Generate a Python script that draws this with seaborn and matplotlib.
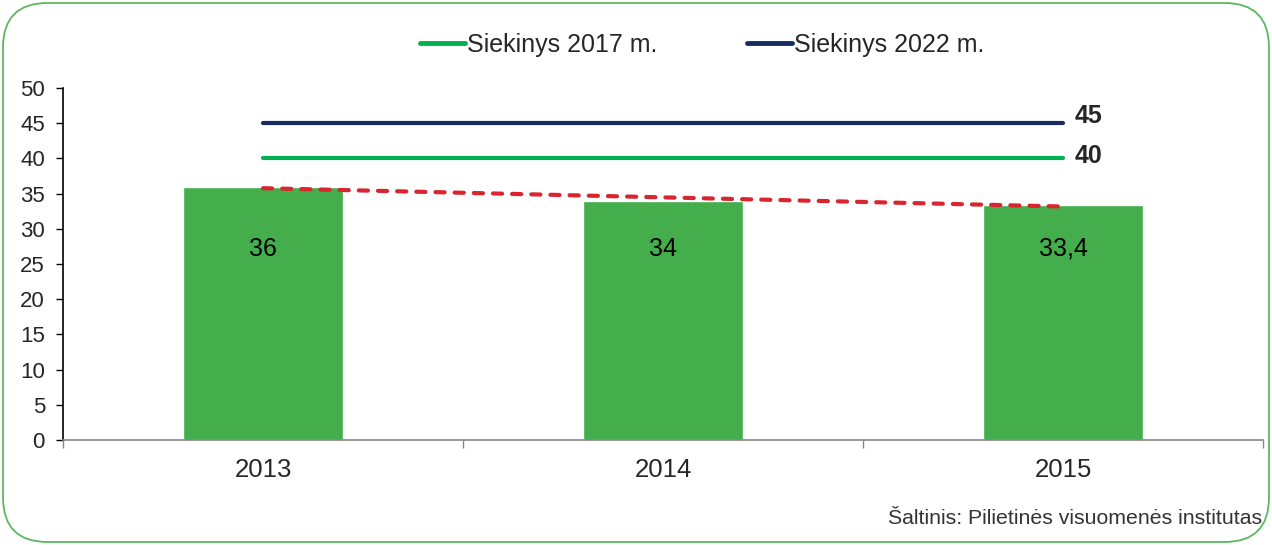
import matplotlib
matplotlib.use("Agg")
import matplotlib.pyplot as plt
import seaborn as sns
import numpy as np
import pandas as pd
from matplotlib.patches import FancyBboxPatch
from matplotlib.lines import Line2D

years = ["2013", "2014", "2015"]
values = [36, 34, 33.4]
value_labels = ["36", "34", "33,4"]
target_2017 = 40
target_2022 = 45
legend_labels = ["Siekinys 2017 m.", "Siekinys 2022 m."]
source_text = "Šaltinis: Pilietinės visuomenės institutas"

sns.set_theme(style="white")
plt.rcParams['font.family'] = ['Liberation Sans', 'DejaVu Sans']

fig = plt.figure(figsize=(12.72, 5.45), dpi=100)
ax = fig.add_axes([63/1272, 1-440/545, 1200/1272, 352/545])

df = pd.DataFrame({"year": years, "value": values})
sns.barplot(data=df, x="year", y="value", color="#43AE4B", width=0.4,
            saturation=1, ax=ax)

xs = np.arange(len(years))
ax.plot([xs[0], xs[-1]], [target_2022]*2, color="#172B63", lw=3, solid_capstyle="round", zorder=3)
ax.plot([xs[0], xs[-1]], [target_2017]*2, color="#00B050", lw=3, solid_capstyle="round", zorder=3)

# linear trend of values
coef = np.polyfit(xs, values, 1)
trend = np.polyval(coef, xs)
ax.plot([xs[0], xs[-1]], [trend[0], trend[-1]], color="#D9262E", lw=3,
        dashes=(2.2, 2.4), dash_capstyle="round", zorder=4)

for x, v, lab in zip(xs, values, value_labels):
    ax.text(x, 27.2, lab, ha="center", va="center", fontsize=18, color="black")

ax.text(xs[-1] + 0.03, target_2022 + 1.0, str(target_2022), ha="left", va="center",
        fontsize=18, fontweight="bold")
ax.text(xs[-1] + 0.03, target_2017 + 0.4, str(target_2017), ha="left", va="center",
        fontsize=18, fontweight="bold")

ax.set_xlim(-0.5, 2.5)
ax.set_ylim(0, 50)
ax.set_yticks(range(0, 51, 5))
ax.set_xlabel("")
ax.set_ylabel("")
ax.tick_params(axis="y", labelsize=16, length=5, width=1, direction="out", left=True, pad=8, color="black")
ax.set_xticks(xs)
ax.set_xticklabels(years, fontsize=18.5)
ax.tick_params(axis="x", length=0, pad=13)
# category boundary ticks
ax.set_xticks([-0.5, 0.5, 1.5, 2.5], minor=True)
ax.tick_params(axis="x", which="minor", length=6, color="#888888", width=1, direction="out", bottom=True)
for s in ["top", "right"]:
    ax.spines[s].set_visible(False)
ax.spines["left"].set_color("black")
ax.spines["left"].set_linewidth(1.2)
ax.spines["bottom"].set_color("#888888")
ax.spines["bottom"].set_linewidth(1.2)

handles = [Line2D([], [], color="#00B050", lw=3.5), Line2D([], [], color="#172B63", lw=3.5)]
fig.legend(handles, legend_labels, loc="center", bbox_to_anchor=(702/1272, 1-45/545),
           ncol=2, frameon=False, fontsize=18, handlelength=1.8, handletextpad=0.08,
           columnspacing=3.6)

fig.text(1262/1272, 1-518/545, source_text, ha="right", va="center", fontsize=15.3, color="#333333")

border = FancyBboxPatch((3/1272, 3/545), 1266/1272, 539/545,
                        boxstyle="round,pad=0,rounding_size=0.035",
                        transform=fig.transFigure, fill=False, edgecolor="#5DB760", lw=1.3,
                        mutation_aspect=1272/545)
fig.patches.append(border)

fig.savefig("out.png", dpi=100)
